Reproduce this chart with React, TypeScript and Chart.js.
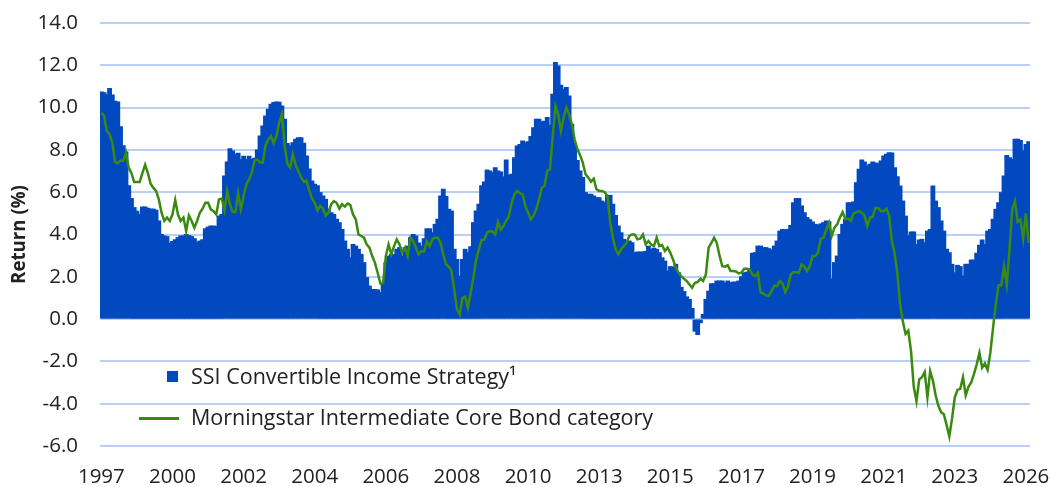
import React, { useEffect, useRef } from 'react';
import { Chart, registerables } from 'chart.js';

Chart.register(...registerables);

// Tick labels shown every `tickEvery` monthly points
const xTickLabels = ['1997', '2000', '2002', '2004', '2006', '2008', '2010', '2013', '2015', '2017', '2019', '2021', '2023', '2026'];
const tickEvery = 26;

const yMin = -6;
const yMax = 14;
const yStep = 2;

const seriesNames = ['SSI Convertible Income Strategy\u00B9', 'Morningstar Intermediate Core Bond category'];

// SSI Convertible Income Strategy (bars), monthly rolling return (%)
const ssiReturns = [
  10.74, 10.7, 10.6, 10.9, 10.6, 10.3, 10.27, 9.1, 8.2, 7.9,
  6.3, 5.7, 5.27, 5.1, 4.95, 5.3, 5.3, 5.24, 5.2, 5.2,
  5.15, 4.64, 4.0, 3.93, 3.9, 3.58, 3.67, 3.75, 3.85, 3.93,
  3.93, 4.0, 3.95, 3.9, 3.8, 3.64, 3.69, 3.75, 4.27, 4.35,
  4.4, 4.4, 4.38, 4.87, 4.95, 6.77, 7.43, 8.06, 7.95, 7.8,
  7.84, 7.55, 7.7, 7.55, 7.7, 7.55, 7.6, 8.0, 8.66, 9.13,
  9.6, 9.92, 10.16, 10.24, 10.27, 10.25, 10.08, 9.45, 8.3, 8.19,
  8.34, 8.5, 8.58, 8.58, 8.31, 7.71, 7.1, 6.53, 6.37, 6.3,
  5.98, 5.82, 5.66, 5.19, 5.03, 4.95, 4.72, 4.56, 4.24, 3.69,
  3.3, 2.9, 3.53, 3.45, 3.3, 3.06, 2.67, 1.96, 1.56, 1.4,
  1.4, 1.38, 1.25, 1.64, 2.67, 2.98, 3.06, 3.05, 3.3, 3.38,
  2.98, 3.38, 3.45, 3.85, 4.0, 3.93, 3.6, 3.45, 3.8, 4.27,
  4.27, 4.08, 4.48, 4.72, 5.82, 6.14, 5.8, 5.19, 5.11, 3.3,
  2.82, 2.03, 2.82, 3.3, 3.14, 3.42, 4.56, 5.11, 5.43, 6.3,
  6.48, 7.05, 7.0, 6.92, 7.16, 7.0, 6.95, 6.73, 7.52, 6.8,
  6.85, 7.63, 8.19, 8.26, 8.42, 8.34, 8.38, 8.63, 9.05, 9.45,
  9.45, 9.32, 9.35, 9.53, 9.16, 10.63, 12.13, 11.97, 11.06, 10.87,
  10.95, 10.55, 9.21, 8.3, 7.5, 7.0, 6.69, 5.98, 5.9, 5.9,
  5.82, 5.74, 5.74, 5.58, 5.5, 5.85, 5.85, 5.43, 4.9, 4.4,
  4.08, 3.77, 3.69, 3.69, 3.61, 3.14, 3.17, 3.17, 3.17, 3.2,
  3.45, 3.3, 3.35, 3.3, 3.14, 2.9, 2.74, 2.27, 2.48, 2.45,
  2.59, 2.19, 1.5, 1.3, 1.05, 0.93, 0.5, -0.57, -0.73, -0.17,
  0.22, 0.93, 1.32, 1.67, 1.67, 1.8, 1.8, 1.8, 1.7, 1.8,
  1.72, 1.75, 1.75, 1.8, 2.0, 2.19, 2.22, 2.35, 3.11, 3.14,
  3.45, 3.45, 3.38, 3.38, 3.33, 3.27, 3.45, 3.69, 4.16, 4.24,
  4.22, 4.24, 4.43, 5.5, 5.7, 5.7, 5.35, 5.03, 4.8, 4.7,
  4.59, 4.48, 4.45, 4.5, 4.56, 4.64, 4.6, 1.9, 2.67, 2.98,
  4.0, 4.48, 4.72, 5.5, 5.5, 5.54, 6.45, 7.08, 7.52, 7.43,
  7.24, 7.32, 7.43, 7.38, 7.35, 7.48, 7.71, 7.79, 7.87, 7.85,
  7.16, 6.73, 6.29, 5.58, 4.87, 3.93, 4.12, 4.12, 3.53, 3.74,
  3.77, 3.61, 4.16, 4.24, 6.29, 5.58, 5.27, 4.64, 4.16, 3.3,
  3.14, 2.59, 2.19, 2.54, 2.48, 2.03, 2.59, 2.59, 2.79, 2.79,
  3.11, 3.49, 3.74, 3.53, 4.16, 4.24, 4.72, 5.19, 5.5, 5.98,
  6.77, 7.74, 7.63, 7.55, 8.5, 8.5, 8.45, 7.95, 8.26, 8.38,
];

// Morningstar Intermediate Core Bond category (line), monthly rolling return (%)
const morningstarReturns = [
  9.76, 9.6, 8.9, 8.74, 8.35, 7.43, 7.37, 7.5, 7.48, 7.87,
  7.16, 6.9, 6.48, 6.48, 6.48, 6.9, 7.3, 6.9, 6.4, 6.2,
  6.06, 5.66, 5.03, 4.64, 4.8, 4.64, 4.95, 5.63, 4.95, 4.64,
  4.8, 4.16, 4.9, 4.64, 4.32, 4.64, 5.03, 5.22, 5.5, 5.5,
  5.19, 5.1, 4.95, 5.66, 5.7, 5.14, 6.06, 5.43, 5.06, 5.06,
  5.95, 5.19, 5.82, 6.37, 6.6, 6.92, 7.5, 7.55, 7.4, 7.4,
  8.2, 8.5, 8.66, 8.31, 8.66, 9.3, 9.68, 8.2, 7.35, 7.16,
  7.8, 7.3, 7.0, 6.7, 6.5, 6.55, 6.1, 5.7, 5.5, 5.15,
  5.35, 5.22, 4.9, 5.03, 5.43, 5.58, 5.5, 5.22, 5.43, 5.32,
  5.46, 5.4, 4.95, 4.72, 4.0, 3.93, 3.85, 3.53, 3.38, 2.98,
  2.67, 2.19, 1.69, 1.7, 2.98, 3.53, 3.06, 3.45, 3.77, 3.53,
  3.14, 3.38, 2.98, 3.85, 3.69, 3.38, 3.06, 3.22, 3.2, 3.69,
  3.45, 3.77, 3.85, 3.85, 3.61, 3.06, 2.59, 2.48, 2.27, 1.4,
  0.46, 0.22, 1.0, 1.06, 0.54, 1.25, 1.96, 2.82, 3.3, 3.74,
  3.77, 4.08, 4.16, 4.14, 4.0, 4.59, 4.24, 4.4, 4.64, 4.87,
  5.5, 5.9, 6.06, 5.95, 5.9, 5.35, 5.03, 4.72, 4.9, 5.19,
  5.66, 6.21, 6.29, 7.0, 7.08, 8.6, 10.08, 9.68, 8.9, 9.53,
  10.0, 9.68, 9.21, 8.5, 8.05, 7.75, 7.4, 6.85, 6.69, 6.5,
  6.64, 6.14, 6.06, 6.06, 6.0, 5.82, 4.6, 3.85, 3.3, 3.06,
  3.3, 3.45, 3.6, 3.93, 4.0, 4.0, 3.77, 3.8, 4.0, 3.53,
  3.69, 3.53, 3.45, 3.85, 3.45, 3.5, 3.22, 3.38, 3.14, 2.82,
  2.43, 2.19, 2.03, 1.91, 1.8, 1.64, 1.48, 1.72, 1.75, 1.91,
  1.8, 2.11, 3.38, 3.6, 3.85, 3.6, 3.0, 2.5, 2.48, 2.55,
  2.27, 2.27, 2.25, 2.16, 2.2, 2.38, 2.38, 2.35, 2.11, 2.03,
  2.19, 1.25, 1.21, 1.12, 1.09, 1.32, 1.59, 1.56, 1.8, 1.7,
  1.28, 1.53, 2.11, 2.22, 2.22, 2.19, 2.59, 2.48, 2.27, 2.5,
  2.98, 2.98, 3.14, 3.8, 3.85, 4.24, 4.56, 3.93, 4.32, 4.48,
  4.8, 5.06, 4.72, 4.75, 4.64, 5.0, 5.06, 5.11, 5.03, 4.9,
  4.4, 4.8, 4.84, 5.25, 5.25, 5.1, 5.1, 5.22, 4.9, 3.7,
  3.1, 2.19, 0.7, -0.1, -0.7, -0.55, -1.5, -3.2, -3.88, -2.85,
  -2.75, -2.5, -3.7, -2.46, -2.9, -3.6, -4.1, -4.4, -4.5, -5.0,
  -5.55, -4.7, -3.7, -3.35, -3.3, -2.75, -3.6, -3.2, -3.0, -2.6,
  -2.15, -1.6, -2.3, -2.1, -2.4, -1.6, -0.4, 0.7, 1.6, 1.6,
  2.5, 1.64, 3.3, 5.2, 5.58, 4.6, 4.7, 3.8, 5.0, 3.6,
];

const categories = ssiReturns.map((_, i) => String(i));

const BLUE = '#0249C0';
const GREEN = '#3A8A0E';
const GRID = '#B9D0F6';
const TEXT = '#222222';
const FONT = "'Open Sans', sans-serif";

export default function App() {
  const canvasRef = useRef<HTMLCanvasElement | null>(null);

  useEffect(() => {
    const canvas = canvasRef.current;
    if (!canvas) return;
    const chart = new Chart(canvas, {
      type: 'bar',
      data: {
        labels: categories,
        datasets: [
          {
            type: 'line',
            label: seriesNames[1],
            data: morningstarReturns,
            borderColor: GREEN,
            backgroundColor: GREEN,
            borderWidth: 2.5,
            pointRadius: 0,
            tension: 0,
            order: 0,
          } as any,
          {
            type: 'bar',
            label: seriesNames[0],
            data: ssiReturns,
            backgroundColor: BLUE,
            borderWidth: 0,
            barPercentage: 1.4,
            categoryPercentage: 1,
            inflateAmount: 0.5,
            order: 1,
          } as any,
        ],
      },
      options: {
        responsive: false,
        animation: false,
        devicePixelRatio: 1,
        layout: { padding: { top: 23, right: 22, bottom: 0, left: 0 } },
        plugins: {
          legend: { display: false },
          tooltip: { enabled: false },
        },
        scales: {
          x: {
            offset: true,
            grid: { display: false, drawTicks: false },
            border: { display: false },
            ticks: {
              autoSkip: false,
              maxRotation: 0,
              minRotation: 0,
              padding: 19,
              color: TEXT,
              font: { family: FONT, size: 20.5 },
              callback: (_v: any, i: number) => (i % tickEvery === 0 ? xTickLabels[i / tickEvery] ?? '' : ''),
            },
            afterFit: (s: any) => {
              s.height = 41;
            },
          },
          y: {
            min: yMin,
            max: yMax,
            grid: { color: GRID, lineWidth: 2, drawTicks: false },
            border: { display: false },
            ticks: {
              stepSize: yStep,
              padding: 22,
              color: TEXT,
              font: { family: FONT, size: 20.5 },
              callback: (v: any) => Number(v).toFixed(1),
            },
            title: {
              display: true,
              text: 'Return (%)',
              color: TEXT,
              font: { family: FONT, size: 18.7, weight: 'bold' },
              padding: { top: 8, bottom: 0 },
            },
            afterFit: (s: any) => {
              s.width = 100;
              s.paddingTop = 0;
              s.paddingBottom = 0;
            },
          },
        },
      },
    });
    return () => chart.destroy();
  }, []);

  const legendText: React.CSSProperties = {
    position: 'absolute',
    left: 191,
    fontFamily: FONT,
    fontSize: 21.5,
    color: TEXT,
    lineHeight: '26px',
    whiteSpace: 'nowrap',
  };

  return (
    <div style={{ position: 'fixed', left: 0, top: 0, width: 1052, height: 487, background: '#fff' }}>
      <canvas ref={canvasRef} width={1052} height={487} style={{ display: 'block' }} />
      <div style={{ position: 'absolute', left: 167, top: 371, width: 11, height: 11, background: BLUE }} />
      <div style={{ ...legendText, top: 363 }}>{seriesNames[0]}</div>
      <div style={{ position: 'absolute', left: 139, top: 417, width: 40, height: 3, background: GREEN }} />
      <div style={{ ...legendText, top: 404 }}>{seriesNames[1]}</div>
    </div>
  );
}
